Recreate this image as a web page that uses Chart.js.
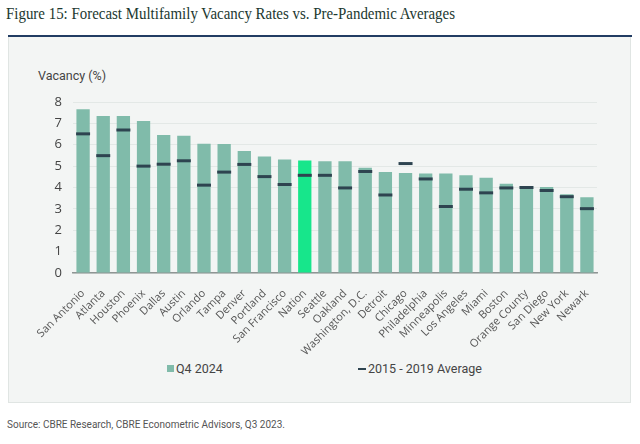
<!DOCTYPE html>
<html>
<head>
<meta charset="utf-8">
<script src="https://cdn.jsdelivr.net/npm/chart.js@4/dist/chart.umd.min.js"></script>
<style>
  html, body { margin: 0; padding: 0; background: #ffffff; }
  body { width: 640px; height: 444px; position: relative; overflow: hidden; font-family: Roboto, "Open Sans", sans-serif; }
  #title { position: absolute; left: 6px; top: 3px; font-family: "Liberation Serif", serif; font-size: 17.5px; color: #1c3830; white-space: nowrap; transform-origin: 0 0; }
  #rule { position: absolute; left: 8px; top: 35px; width: 624px; height: 2px; background: #223c63; }
  #panel { position: absolute; left: 8px; top: 37px; width: 621px; height: 365px; background: #f3f5f4; border: 1px solid #e0e5e3; border-top: none; }
  #chartbox { position: absolute; left: 8px; top: 37px; width: 622px; height: 322px; }
  #ytitle { position: absolute; left: 38px; top: 68px; font-size: 12.5px; color: #444; }
  .leg { position: absolute; top: 361px; font-size: 12.5px; color: #444; white-space: nowrap; }
  .sw { display: inline-block; vertical-align: middle; }
  #source { position: absolute; left: 7px; top: 419px; font-size: 10px; color: #555; white-space: nowrap; }
</style>
</head>
<body>
<div id="title">Figure 15: Forecast Multifamily Vacancy Rates vs. Pre-Pandemic Averages</div>
<div id="rule"></div>
<div id="panel"></div>
<div id="ytitle">Vacancy (%)</div>
<div id="chartbox"><canvas id="c" width="622" height="322"></canvas></div>
<div class="leg" id="leg1" style="left:167px;"><span class="sw" style="width:7px;height:7px;background:#80bbaa;margin-right:2px;margin-top:-2px;"></span>Q4 2024</div>
<div class="leg" id="leg2" style="left:358px;"><span class="sw" style="width:8px;height:2px;background:#2e4450;margin-right:2px;margin-top:-2px;"></span>2015 - 2019 Average</div>
<div id="source">Source: CBRE Research, CBRE Econometric Advisors, Q3 2023.</div>
<script>
const categories = ["San Antonio","Atlanta","Houston","Phoenix","Dallas","Austin","Orlando","Tampa","Denver","Portland","San Francisco","Nation","Seattle","Oakland","Washington, D.C.","Detroit","Chicago","Philadelphia","Minneapolis","Los Angeles","Miami","Boston","Orange County","San Diego","New York","Newark"];
const q42024 = [7.66,7.34,7.34,7.11,6.46,6.42,6.05,6.03,5.71,5.45,5.31,5.26,5.23,5.23,4.92,4.72,4.68,4.66,4.65,4.57,4.46,4.17,4.06,4.02,3.68,3.54];
const avg2015_2019 = [6.51,5.49,6.69,5.00,5.09,5.25,4.11,4.72,5.08,4.51,4.14,4.57,4.57,3.98,4.75,3.65,5.12,4.40,3.11,3.92,3.75,3.98,4.00,3.86,3.57,3.01];
const yTicks = [0,1,2,3,4,5,6,7,8];

// fit title width
const t = document.getElementById('title');
const w = t.getBoundingClientRect().width;
t.style.transform = 'scaleX(' + (449 / w) + ')';

const barColors = categories.map(c => c === 'Nation' ? '#17e68b' : '#80bbaa');

new Chart(document.getElementById('c'), {
  type: 'bar',
  data: {
    labels: categories,
    datasets: [
      {
        type: 'line',
        label: '2015 - 2019 Average',
        data: avg2015_2019,
        showLine: false,
        pointStyle: 'line',
        pointRadius: 7,
        pointHoverRadius: 7,
        borderColor: '#2e4450',
        backgroundColor: '#2e4450',
        pointBorderWidth: 3,
        borderWidth: 3,
        order: 0
      },
      {
        type: 'bar',
        label: 'Q4 2024',
        data: q42024,
        backgroundColor: barColors,
        borderWidth: 0,
        categoryPercentage: 1,
        barPercentage: 0.66,
        order: 1
      }
    ]
  },
  options: {
    responsive: false,
    animation: false,
    events: [],
    layout: { padding: { top: 65, right: 33, left: 0, bottom: 0 } },
    plugins: { legend: { display: false }, tooltip: { enabled: false } },
    scales: {
      x: {
        grid: { display: false },
        border: { display: true, color: '#8f9594', width: 1.5 },
        ticks: {
          autoSkip: false, maxRotation: 45, minRotation: 45,
          font: { family: 'Open Sans', size: 11 }, color: '#555', padding: 6
        },
        afterFit: s => { s.height = 86; }
      },
      y: {
        min: 0, max: 8,
        afterBuildTicks: s => { s.ticks = yTicks.map(v => ({ value: v })); },
        grid: { color: '#e3e8e6', drawTicks: false },
        border: { display: false },
        ticks: { font: { family: 'Open Sans', size: 13 }, color: '#444', padding: 11 },
        afterFit: s => { s.width = 65; }
      }
    }
  }
});
</script>
</body>
</html>
